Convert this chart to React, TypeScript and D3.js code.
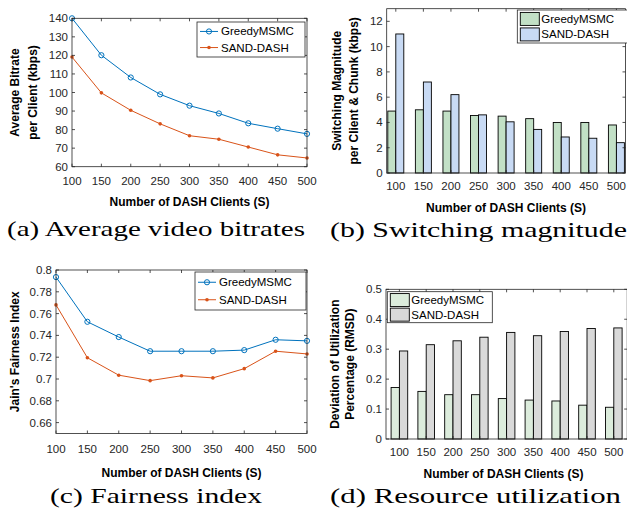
import React from "react";
import * as d3 from "d3";

const clients = [100, 150, 200, 250, 300, 350, 400, 450, 500];
const seriesNames = ["GreedyMSMC", "SAND-DASH"];

// (a) average bitrate per client (kbps)
const bitrateGreedy = [140, 120.1, 108.1, 99, 92.9, 88.7, 83.4, 80.5, 77.7];
const bitrateSand = [119.1, 99.8, 90.4, 83.1, 76.7, 74.8, 70.6, 66.4, 64.7];
const bitrateTicks = [60, 70, 80, 90, 100, 110, 120, 130, 140];

// (b) switching magnitude
const switchGreedy = [4.9, 5.0, 4.9, 4.55, 4.5, 4.3, 4.0, 4.0, 3.8];
const switchSand = [11.0, 7.2, 6.2, 4.6, 4.05, 3.45, 2.85, 2.75, 2.4];
const switchTicks = [0, 2, 4, 6, 8, 10, 12];

// (c) Jain's fairness
const fairGreedy = [0.7935, 0.7525, 0.7385, 0.7255, 0.7255, 0.7255, 0.7265, 0.736, 0.735];
const fairSand = [0.768, 0.7195, 0.7035, 0.6985, 0.703, 0.701, 0.7095, 0.7255, 0.723];
const fairTicks = [0.66, 0.68, 0.7, 0.72, 0.74, 0.76, 0.78, 0.8];

// (d) utilization RMSD
const utilGreedy = [0.172, 0.159, 0.148, 0.148, 0.135, 0.13, 0.127, 0.113, 0.106];
const utilSand = [0.294, 0.315, 0.328, 0.34, 0.356, 0.345, 0.359, 0.369, 0.371];
const utilTicks = [0, 0.1, 0.2, 0.3, 0.4, 0.5];

const SANS = "'Liberation Sans', Arial, Helvetica, sans-serif";
const SERIF = "'Liberation Serif', 'DejaVu Serif', serif";
const AX = "#262626";
const BLUE = "#0072BD";
const ORANGE = "#D95319";
const TICK = 3;

function Frame({ x0, x1, y0, y1, xt, yt }) {
  return (
    <g stroke={AX} strokeWidth={0.8}>
      <rect x={x0} y={y0} width={x1 - x0} height={y1 - y0} fill="none" />
      {xt.map((x, i) => (
        <g key={"x" + i}>
          <line x1={x} x2={x} y1={y1} y2={y1 - TICK} />
          <line x1={x} x2={x} y1={y0} y2={y0 + TICK} />
        </g>
      ))}
      {yt.map((y, i) => (
        <g key={"y" + i}>
          <line x1={x0} x2={x0 + TICK} y1={y} y2={y} />
          <line x1={x1} x2={x1 - TICK} y1={y} y2={y} />
        </g>
      ))}
    </g>
  );
}

function YTitle({ lines, xs, cy }) {
  return (
    <g>
      {lines.map((t, i) => (
        <text key={i} transform={`translate(${xs[i]},${cy}) rotate(-90)`} textAnchor="middle"
          dominantBaseline="central" fontFamily={SANS} fontWeight="bold" fontSize={12} fill="#000">{t}</text>
      ))}
    </g>
  );
}

function Labels({ p, xLabelPos, yTicks, y, fmt }) {
  return (
    <g fontFamily={SANS} fontSize={11.5} fill={AX}>
      {clients.map((c, i) => (
        <text key={"xl" + i} x={xLabelPos[i]} y={p.bottom + p.xlab} textAnchor="middle">{c}</text>
      ))}
      {yTicks.map((v, i) => (
        <text key={"yl" + i} x={p.left - 4} y={y(v)} dy="0.35em" textAnchor="end">{fmt(v)}</text>
      ))}
      <text x={(p.left + p.right) / 2 + (p.titleShift || 0)} y={p.bottom + p.xtitle} textAnchor="middle"
        fontWeight="bold" fontSize={12} fill="#000">Number of DASH Clients (S)</text>
      <text x={p.capX} y={p.capY} fontFamily={SERIF} fontSize={21} fill="#000"
        textLength={p.capW} lengthAdjust="spacingAndGlyphs">{p.caption}</text>
    </g>
  );
}

function LinePanel({ p, a, b, yDomain, yTicks }) {
  const x = d3.scaleLinear().domain([100, 500]).range([p.left, p.right]);
  const y = d3.scaleLinear().domain(yDomain).range([p.bottom, p.top]);
  const line = d3.line().x((d, i) => x(clients[i])).y((d) => y(d));
  const lg = p.legend;
  return (
    <g>
      <YTitle lines={p.ytitle} xs={p.ytitleX} cy={(p.top + p.bottom) / 2} />
      <Labels p={p} xLabelPos={clients.map((c) => x(c))} yTicks={yTicks} y={y} fmt={(v) => String(v)} />
      <path d={line(a)} fill="none" stroke={BLUE} strokeWidth={1} />
      <path d={line(b)} fill="none" stroke={ORANGE} strokeWidth={1} />
      {a.map((v, i) => (
        <circle key={"a" + i} cx={x(clients[i])} cy={y(v)} r={2.6} fill="none" stroke={BLUE} strokeWidth={1} />
      ))}
      {b.map((v, i) => (
        <circle key={"b" + i} cx={x(clients[i])} cy={y(v)} r={1.8} fill={ORANGE} />
      ))}
      <Frame x0={p.left} x1={p.right} y0={p.top} y1={p.bottom}
        xt={clients.map((c) => x(c))} yt={yTicks.map((v) => y(v))} />
      <rect x={lg.x} y={lg.y} width={lg.w} height={lg.h} fill="#fff" stroke={AX} strokeWidth={0.8} />
      {seriesNames.map((n, i) => {
        const ry = lg.y + lg.h * (0.27 + 0.46 * i);
        const col = i === 0 ? BLUE : ORANGE;
        return (
          <g key={n}>
            <line x1={lg.x + 3} x2={lg.x + 21} y1={ry} y2={ry} stroke={col} strokeWidth={1} />
            {i === 0 ? (
              <circle cx={lg.x + 12} cy={ry} r={2.6} fill="none" stroke={col} />
            ) : (
              <circle cx={lg.x + 12} cy={ry} r={1.8} fill={col} />
            )}
            <text x={lg.x + 24} y={ry} dy="0.35em" fontFamily={SANS} fontSize={11.5} fill="#000">{n}</text>
          </g>
        );
      })}
    </g>
  );
}

function BarPanel({ p, a, b, yDomain, yTicks, colors, fmt }) {
  const idx = clients.map((c, i) => i);
  const x = d3.scaleLinear().domain(p.xDomain).range([p.left, p.right]);
  const y = d3.scaleLinear().domain(yDomain).range([p.bottom, p.top]);
  const step = x(1) - x(0);
  const bw = step * p.barFrac;
  const lg = p.legend;
  return (
    <g>
      <YTitle lines={p.ytitle} xs={p.ytitleX} cy={(p.top + p.bottom) / 2} />
      <Labels p={p} xLabelPos={idx.map((i) => x(i))} yTicks={yTicks} y={y} fmt={fmt} />
      {[a, b].map((s, k) => (
        <g key={k}>
          {s.map((v, i) => (
            <rect key={i} x={x(i) - bw + k * bw} y={y(v)} width={bw} height={y(0) - y(v)}
              fill={colors[k]} stroke="#000" strokeWidth={0.9} />
          ))}
        </g>
      ))}
      <Frame x0={p.left} x1={p.right} y0={p.top} y1={p.bottom}
        xt={idx.map((i) => x(i))} yt={yTicks.map((v) => y(v))} />
      <rect x={lg.x} y={lg.y} width={lg.w} height={lg.h} fill="#fff" stroke={AX} strokeWidth={0.8} />
      {seriesNames.map((n, i) => {
        const ry = lg.y + lg.h * (0.27 + 0.47 * i);
        return (
          <g key={n}>
            <rect x={lg.x + 3} y={ry - 6.5} width={19} height={13} fill={colors[i]} stroke="#000" strokeWidth={0.9} />
            <text x={lg.x + 24} y={ry} dy="0.35em" fontFamily={SANS} fontSize={11.5} fill="#000">{n}</text>
          </g>
        );
      })}
    </g>
  );
}

const panelA = {
  left: 72, right: 307, top: 18.3, bottom: 166.7, xlab: 18, xtitle: 39,
  ytitle: ["Average Bitrate", "per Client (kbps)"], ytitleX: [15, 33],
  caption: "(a) Average video bitrates", capX: 7, capY: 236, capW: 298,
  legend: { x: 197, y: 22, w: 108, h: 35 },
};
const panelB = {
  left: 386.7, right: 625.5, top: 8.7, bottom: 173, xlab: 17, xtitle: 39, titleShift: 0,
  xDomain: [-0.33, 8.33], barFrac: 0.29,
  ytitle: ["Switching Magnitude", "per Client & Chunk (kbps)"], ytitleX: [337, 354],
  caption: "(b) Switching magnitude", capX: 330, capY: 237, capW: 297,
  legend: { x: 517.3, y: 10, w: 112, h: 33 },
};
const panelC = {
  left: 56, right: 307, top: 270, bottom: 433.5, xlab: 19, xtitle: 43,
  ytitle: ["Jain's Fairness Index"], ytitleX: [15],
  caption: "(c) Fairness index", capX: 50, capY: 503, capW: 212,
  legend: { x: 195, y: 272, w: 111, h: 38 },
};
const panelD = {
  left: 386, right: 627.2, top: 289.3, bottom: 439, xlab: 17, xtitle: 39, titleShift: -3,
  xDomain: [-0.5, 8.5], barFrac: 0.31,
  ytitle: ["Deviation of Utilization", "Percentage (RMSD)"], ytitleX: [335, 350],
  caption: "(d) Resource utilization", capX: 330, capY: 503, capW: 291,
  legend: { x: 387.3, y: 291.7, w: 105, h: 31 },
};

export default function App() {
  return (
    <svg width={627} height={518} style={{ position: "absolute", left: 0, top: 0, background: "#fff" }}>
      <rect width={627} height={518} fill="#fff" />
      <LinePanel p={panelA} a={bitrateGreedy} b={bitrateSand} yDomain={[60, 140]} yTicks={bitrateTicks} />
      <BarPanel p={panelB} a={switchGreedy} b={switchSand} yDomain={[0, 13]} yTicks={switchTicks}
        colors={["#c2e0c6", "#c8daf4"]} fmt={(v) => String(v)} />
      <LinePanel p={panelC} a={fairGreedy} b={fairSand} yDomain={[0.65, 0.8]} yTicks={fairTicks} />
      <BarPanel p={panelD} a={utilGreedy} b={utilSand} yDomain={[0, 0.5]} yTicks={utilTicks}
        colors={["#dcecdc", "#d9d9d9"]} fmt={(v) => String(v)} />
    </svg>
  );
}
